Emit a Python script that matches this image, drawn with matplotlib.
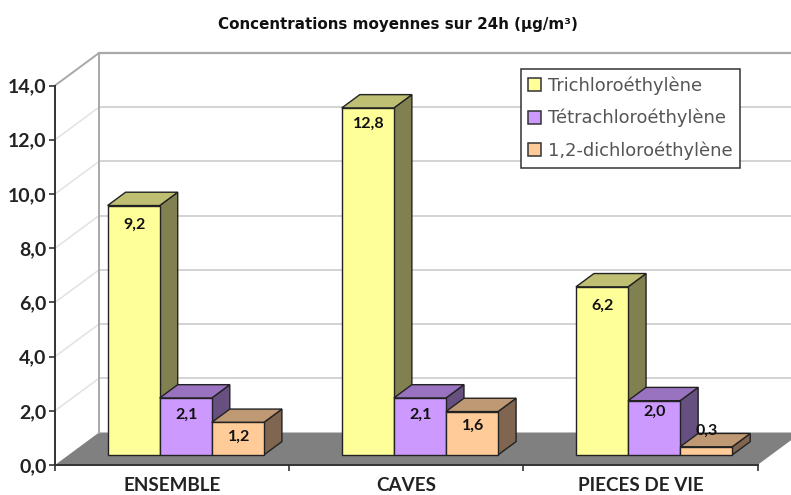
import matplotlib
matplotlib.use("Agg")
import matplotlib.pyplot as plt
from matplotlib.patches import Polygon, Patch

categories = ["ENSEMBLE", "CAVES", "PIECES DE VIE"]
series_names = ["Trichloroéthylène", "Tétrachloroéthylène", "1,2-dichloroéthylène"]
trichloro = [9.2, 12.8, 6.2]
tetrachloro = [2.1, 2.1, 2.0]
dichloro = [1.2, 1.6, 0.3]
y_ticks = [0, 2, 4, 6, 8, 10, 12, 14]

# style
W, H = 791, 495
FONT = "Lato"
front_cols = ["#FFFF99", "#CC99FF", "#FFCC99"]
top_cols = ["#BFBF73", "#9973BF", "#BF9973"]
side_cols = ["#808050", "#665080", "#806650"]
label_dy_px = [[-19, -16, -19], [-17, -17, -11], [-14, -14, 16]]

fig = plt.figure(figsize=(W / 100, H / 100), dpi=100, facecolor="white")
L, R, B, T = 55, 757.5, 465, 85.5
ax = fig.add_axes([L / W, 1 - B / H, (R - L) / W, (B - T) / H])
ax.set_xlim(0, 3)
ax.set_ylim(0, 14)
ux = 3 / (R - L)          # data units per pixel
uy = 14 / (B - T)
DX, DY = 44 * ux, 32.5 * uy   # wall depth
bw = 52.1 * ux               # bar width
gap = (1 - 3 * bw) / 2
f0, fd = 0.31, 0.41          # bar position and depth within floor


def poly(pts, fc, ec="none", lw=0, z=1):
    ax.add_patch(Polygon(pts, closed=True, facecolor=fc, edgecolor=ec, linewidth=lw,
                         clip_on=False, zorder=z, joinstyle="miter"))


# floor
poly([(0, 0), (3, 0), (3 + DX, DY), (DX, DY)], "#808080", z=1)
# walls
for v in y_ticks[1:-1]:
    ax.plot([0, DX], [v, v + DY], color="#E2E2E2", lw=1.1, clip_on=False, zorder=1)
    ax.plot([DX, 3 + DX], [v + DY, v + DY], color="#CCCCCC", lw=1.2, clip_on=False, zorder=1)
ax.plot([0, DX, DX], [14, 14 + DY, DY], color="#A8A8A8", lw=1.4, clip_on=False, zorder=1)
ax.plot([DX, 3 + DX], [14 + DY, 14 + DY], color="#A8A8A8", lw=1.6, clip_on=False, zorder=1)

# bars
all_series = [trichloro, tetrachloro, dichloro]
EC = "#222222"
for i in range(len(categories)):
    for j, vals in enumerate(all_series):
        v = vals[i]
        x0 = i + gap + j * bw + f0 * DX
        x1 = x0 + bw
        y0 = f0 * DY
        y1 = y0 + v
        ddx, ddy = fd * DX, fd * DY
        poly([(x1, y0), (x1 + ddx, y0 + ddy), (x1 + ddx, y1 + ddy), (x1, y1)], side_cols[j], EC, 1.0, 3)
        poly([(x0, y1), (x1, y1), (x1 + ddx, y1 + ddy), (x0 + ddx, y1 + ddy)], top_cols[j], EC, 1.0, 3)
        poly([(x0, y0), (x1, y0), (x1, y1), (x0, y1)], front_cols[j], EC, 1.0, 3)
        ax.text((x0 + x1) / 2 + 1 * ux, y1 + label_dy_px[j][i] * uy, f"{v:.1f}".replace(".", ","),
                ha="center", va="center", fontsize=11.5, family=FONT, weight="bold",
                color="#111111", zorder=5)

# axes
for s in ("top", "right"):
    ax.spines[s].set_visible(False)
for s in ("left", "bottom"):
    ax.spines[s].set_color("#333333")
    ax.spines[s].set_linewidth(1.4)
    ax.spines[s].set_zorder(2)
ax.patch.set_alpha(0)
ax.set_yticks(y_ticks)
ax.set_yticklabels([f"{v:.1f}".replace(".", ",") for v in y_ticks], family=FONT, fontsize=14,
                   color="#222222", weight="bold")
ax.tick_params(axis="y", length=4.5, width=1.2, color="#333333", pad=1.5)
ax.set_xticks([0, 1, 2, 3])
ax.set_xticklabels([])
ax.tick_params(axis="x", which="major", length=4.5, width=1.2, color="#333333")
ax.set_xticks([0.5, 1.5, 2.5], minor=True)
ax.set_xticklabels(categories, minor=True, family=FONT, fontsize=13.6, weight="bold", color="#222222")
ax.tick_params(axis="x", which="minor", length=0, pad=8.5)

# title
fig.text(398 / W, 1 - 24 / H, "Concentrations moyennes sur 24h (µg/m³)", ha="center", va="center",
         family="DejaVu Sans", weight="bold", fontsize=10.9, color="#111111")

# legend
handles = [Patch(facecolor=c, edgecolor="#333333", linewidth=1.1) for c in front_cols]
leg = fig.legend(handles, series_names, loc="upper left",
                 bbox_to_anchor=(520.5 / W, 1 - 68.5 / H), bbox_transform=fig.transFigure,
                 prop={"family": "DejaVu Sans", "size": 12.9}, labelcolor="#555555",
                 fancybox=False, framealpha=1, edgecolor="#333333", handlelength=0.73, handleheight=0.73,
                 handletextpad=0.4, labelspacing=0.8, borderpad=0.42, borderaxespad=0)
leg.get_frame().set_linewidth(1.1)
leg.set_zorder(6)

fig.savefig("out.png", dpi=100)
